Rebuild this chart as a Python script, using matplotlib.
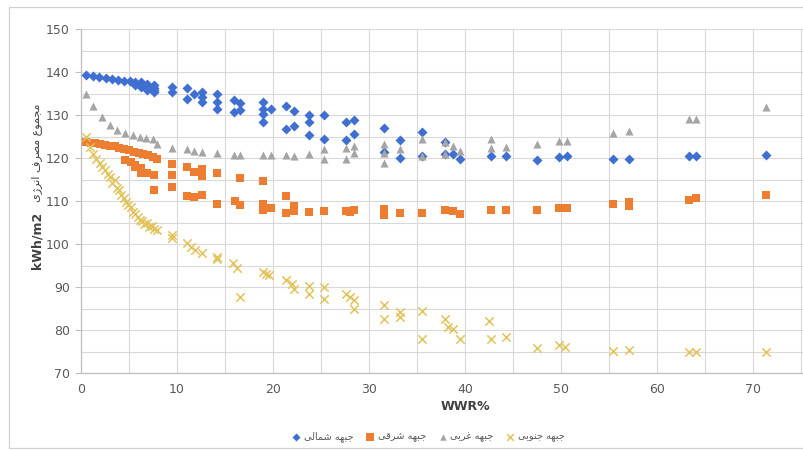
import matplotlib
matplotlib.use("Agg")
import matplotlib.pyplot as plt
from matplotlib.ticker import MultipleLocator
from matplotlib.patches import Rectangle

# ---------------- data ----------------
north_x = [0.5, 1.2, 1.9, 2.6, 3.2, 3.9, 4.5, 5.1, 5.6, 5.6, 6.2, 6.2, 6.2, 6.9, 6.9, 6.9, 7.6, 7.6, 7.6, 7.6,
           9.5, 9.5, 11.0, 11.0, 11.8, 12.6, 12.6, 12.6, 14.2, 14.2, 14.2, 15.9, 15.9, 16.6, 16.6,
           19.0, 19.0, 19.0, 19.0, 19.8, 21.4, 21.4, 22.2, 22.2, 23.7, 23.7, 23.7, 25.3, 25.3, 27.6, 27.6, 28.4, 28.4,
           31.6, 31.6, 33.2, 33.2, 35.5, 35.5, 37.9, 37.9, 38.8, 39.5, 42.7, 44.3, 47.5, 49.8, 50.6, 55.4, 57.1,
           63.3, 64.1, 71.4]
north_y = [139.3, 139.1, 138.8, 138.6, 138.4, 138.2, 138.0, 137.8, 137.6, 137.0, 137.6, 137.0, 136.4, 137.3, 136.5,
           135.9, 137.0, 136.3, 135.7, 135.3,
           136.4, 135.3, 136.2, 133.8, 135.0, 135.3, 134.3, 133.0, 135.0, 133.0, 131.5, 133.4, 130.6, 132.8, 131.2,
           133.0, 131.4, 130.2, 128.4, 131.4, 132.2, 126.7, 131.0, 127.5, 130.0, 128.4, 125.3, 130.0, 124.4, 128.3,
           124.2, 128.8, 125.5,
           126.9, 121.3, 124.2, 120.0, 126.1, 120.5, 123.8, 121.0, 121.0, 119.8, 120.5, 120.5, 119.5, 120.2, 120.4,
           119.8, 119.8, 120.4, 120.4, 120.8]

east_x = [0.5, 1.0, 1.5, 2.0, 2.5, 3.0, 3.5, 4.0, 4.5, 5.0, 5.5, 6.0, 6.5, 7.0, 7.5, 7.9,
          4.6, 5.2, 5.6, 6.3, 5.6, 6.3, 6.9, 7.6, 7.6,
          9.5, 9.5, 9.5, 11.0, 11.0, 11.8, 11.8, 12.6, 12.6, 12.6, 14.2, 14.2, 16.6, 16.0, 16.6,
          19.0, 19.0, 19.0, 19.8, 21.4, 21.4, 22.2, 22.2, 23.7, 25.3, 27.6, 28.0, 28.4,
          31.6, 31.6, 33.2, 35.5, 37.9, 38.8, 39.5, 42.7, 44.3, 47.5, 49.8, 50.6, 55.4, 57.1, 57.1,
          63.3, 64.1, 71.4]
east_y = [123.8, 123.6, 123.5, 123.3, 123.1, 122.9, 122.7, 122.4, 122.1, 121.8, 121.5, 121.2, 120.9, 120.6,
          120.2, 119.7,
          119.6, 119.0, 118.3, 117.6, 117.8, 116.6, 116.4, 116.0, 112.5,
          118.6, 116.1, 113.3, 118.0, 111.2, 116.8, 111.0, 117.4, 115.9, 111.4, 116.4, 109.2, 115.3, 110.0, 109.0,
          114.6, 109.2, 108.0, 108.4, 111.1, 107.2, 108.8, 107.6, 107.4, 107.6, 107.6, 107.4, 107.8,
          108.2, 106.7, 107.2, 107.2, 107.8, 107.6, 107.0, 107.8, 107.9, 108.0, 108.4, 108.4, 109.2, 109.8, 108.8,
          110.2, 110.7, 111.4]

west_x = [0.5, 1.3, 2.2, 3.0, 3.8, 4.6, 5.4, 6.1, 6.8, 7.5, 7.9, 9.5, 11.0, 11.8, 12.6, 14.2, 15.9, 16.6, 19.0,
          19.8, 21.4, 22.2, 23.7, 25.3, 25.3, 27.6, 27.6, 28.4, 28.4, 31.6, 31.6, 31.6, 33.2, 35.5, 35.5, 37.9,
          37.9, 38.8, 39.5, 42.7, 42.7, 44.3, 47.5, 49.8, 50.6, 55.4, 57.1, 63.3, 64.1, 71.4]
west_y = [134.8, 132.0, 129.5, 127.6, 126.5, 125.9, 125.4, 125.0, 124.7, 124.4, 123.2, 122.4, 122.0, 121.6,
          121.4, 121.1, 120.7, 120.7, 120.6, 120.6, 120.8, 120.4, 120.9, 122.0, 119.8, 122.4, 119.8, 122.8, 121.2,
          123.2, 121.2, 118.8, 122.0, 124.4, 120.5, 123.8, 120.9, 122.8, 121.6, 124.4, 122.4, 122.6, 123.3, 124.0,
          124.0, 125.8, 126.3, 129.0, 129.0, 131.9]

south_x = [0.5, 0.9, 1.2, 1.6, 2.0, 2.2, 2.5, 2.8, 3.0, 3.2, 3.5, 3.7, 4.0, 4.2, 4.5, 4.7, 4.9, 5.2, 5.4, 5.6,
           5.9, 6.1, 6.4, 6.6, 6.9, 7.1, 7.4, 7.6, 7.9,
           9.5, 9.5, 11.0, 11.5, 11.9, 12.6, 14.2, 14.2, 15.8, 16.2, 16.6, 19.0, 19.3, 19.6,
           21.4, 22.0, 22.2, 23.7, 23.7, 25.3, 25.3, 27.6, 28.0, 28.4, 28.4, 31.6, 31.6, 33.2, 33.2, 35.5, 35.5,
           37.9, 38.2, 38.8, 39.5, 42.5, 42.7, 44.3, 47.5, 49.8, 50.4, 55.4, 57.1, 63.3, 64.1, 71.4]
south_y = [125.0, 122.5, 121.0, 119.8, 118.8, 117.8, 117.3, 116.3, 115.5, 114.2, 114.8, 113.0, 112.6, 111.4,
           110.8, 109.8, 109.0, 108.6, 107.4, 107.0, 106.3, 105.6, 105.4, 104.6, 104.8, 104.0, 104.2, 103.4, 103.2,
           102.0, 101.5, 100.2, 99.4, 98.6, 98.0, 97.0, 96.6, 95.5, 94.5, 87.6, 93.6, 93.0, 92.8,
           91.6, 90.8, 89.6, 90.2, 88.4, 90.0, 87.3, 88.4, 87.6, 86.9, 84.9, 85.7, 82.6, 84.1, 83.1, 84.5, 77.9,
           82.6, 80.6, 80.2, 77.9, 82.2, 77.9, 78.3, 75.7, 76.5, 76.0, 75.1, 75.4, 74.9, 74.9, 74.9]

x_ticks = [0, 10, 20, 30, 40, 50, 60, 70]
y_ticks = [70, 80, 90, 100, 110, 120, 130, 140, 150]

series_names = ["جبهه شمالی", "جبهه شرقی", "جبهه غربی", "جبهه جنوبی"]
y_title_fa = "مجموع مصرف انرژی"
y_title_unit = "kWh/m2"
x_title = "WWR%"

# ------------- simple Persian shaping (presentation forms, visual order) -------------
FORMS = {
    'ا': ('\uFE8D', '\uFE8E', None, None),
    'ب': ('\uFE8F', '\uFE90', '\uFE91', '\uFE92'),
    'ج': ('\uFE9D', '\uFE9E', '\uFE9F', '\uFEA0'),
    'ر': ('\uFEAD', '\uFEAE', None, None),
    'ز': ('\uFEAF', '\uFEB0', None, None),
    'ژ': ('\uFB8A', '\uFB8B', None, None),
    'ش': ('\uFEB5', '\uFEB6', '\uFEB7', '\uFEB8'),
    'ص': ('\uFEB9', '\uFEBA', '\uFEBB', '\uFEBC'),
    'ع': ('\uFEC9', '\uFECA', '\uFECB', '\uFECC'),
    'غ': ('\uFECD', '\uFECE', '\uFECF', '\uFED0'),
    'ف': ('\uFED1', '\uFED2', '\uFED3', '\uFED4'),
    'ق': ('\uFED5', '\uFED6', '\uFED7', '\uFED8'),
    'ل': ('\uFEDD', '\uFEDE', '\uFEDF', '\uFEE0'),
    'م': ('\uFEE1', '\uFEE2', '\uFEE3', '\uFEE4'),
    'ن': ('\uFEE5', '\uFEE6', '\uFEE7', '\uFEE8'),
    'ه': ('\uFEE9', '\uFEEA', '\uFEEB', '\uFEEC'),
    'و': ('\uFEED', '\uFEEE', None, None),
    'ی': ('\uFBFC', '\uFBFD', '\uFBFE', '\uFBFF'),
}


def shape_fa(text):
    out = []
    n = len(text)
    for i, ch in enumerate(text):
        if ch not in FORMS:
            out.append(ch)
            continue
        prev = text[i - 1] if i > 0 else None
        nxt = text[i + 1] if i < n - 1 else None
        jp = prev in FORMS and FORMS[prev][2] is not None if prev else False
        jn = (FORMS[ch][2] is not None) and (nxt in FORMS) if nxt else False
        iso, fin, ini, med = FORMS[ch]
        if jp and jn:
            out.append(med)
        elif jp:
            out.append(fin)
        elif jn:
            out.append(ini)
        else:
            out.append(iso)
    return ''.join(reversed(out))


# ---------------- figure ----------------
plt.rcParams['font.family'] = ['DejaVu Sans']
fig = plt.figure(figsize=(8.04, 4.5), dpi=100)
W, H = 804.0, 450.0
left_px, right_px, top_px, bot_px = 81, 849, 29, 373
ax = fig.add_axes([left_px / W, 1 - bot_px / H, (right_px - left_px) / W, (bot_px - top_px) / H])

# outer chart frame
fig.patches.append(Rectangle((9 / W, 2 / H), 1.2, 1 - 9 / H, transform=fig.transFigure,
                             fill=False, edgecolor='#D0D0D0', linewidth=0.9, clip_on=False))

c_n, c_e, c_w, c_s = '#3F6FD1', '#ED7D31', '#A5A5A5', '#E3C45C'
ax.scatter(north_x, north_y, marker='D', s=26, color=c_n, linewidths=0, zorder=3, label=shape_fa(series_names[0]))
ax.scatter(east_x, east_y, marker='s', s=40, color=c_e, linewidths=0, zorder=3, label=shape_fa(series_names[1]))
ax.scatter(west_x, west_y, marker='^', s=34, color=c_w, linewidths=0, zorder=3, label=shape_fa(series_names[2]))
ax.scatter(south_x, south_y, marker='x', s=36, color=c_s, linewidths=1.1, zorder=3, label=shape_fa(series_names[3]))

ax.set_xlim(0, 80)
ax.set_ylim(70, 150)
ax.set_xticks(x_ticks)
ax.set_yticks(y_ticks)
ax.xaxis.set_minor_locator(MultipleLocator(5))
ax.yaxis.set_minor_locator(MultipleLocator(5))
ax.grid(True, which='both', color='#D9D9D9', linewidth=0.8, zorder=0)
ax.set_axisbelow(True)
for s in ['top', 'right']:
    ax.spines[s].set_visible(False)
for s in ['left', 'bottom']:
    ax.spines[s].set_color('#BFBFBF')
    ax.spines[s].set_linewidth(0.9)
ax.tick_params(axis='y', which='major', length=4, color='#BFBFBF', labelsize=9, labelcolor='#595959', pad=4)
ax.tick_params(axis='x', which='major', length=0, labelsize=9, labelcolor='#595959', pad=7)
ax.tick_params(which='minor', length=0)

fig.text((left_px + right_px) / 2 / W, 1 - 407 / H, x_title, ha='center', va='center',
         fontsize=9, fontweight='bold', color='#404040')
fig.text(37 / W, 1 - 240 / H, y_title_unit, ha='center', va='center', rotation=90,
         fontsize=9, fontweight='bold', color='#404040')
fig.text(37 / W, 1 - 153 / H, shape_fa(y_title_fa), ha='center', va='center', rotation=90,
         fontsize=8, color='#404040')

leg = fig.legend(loc='center', bbox_to_anchor=(428 / W, 1 - 437 / H), ncol=4, frameon=False,
                 fontsize=7, handletextpad=0.3, columnspacing=1.2, handlelength=1.0, markerscale=0.8,
                 labelcolor='#595959')

fig.savefig('out.png', dpi=100)
